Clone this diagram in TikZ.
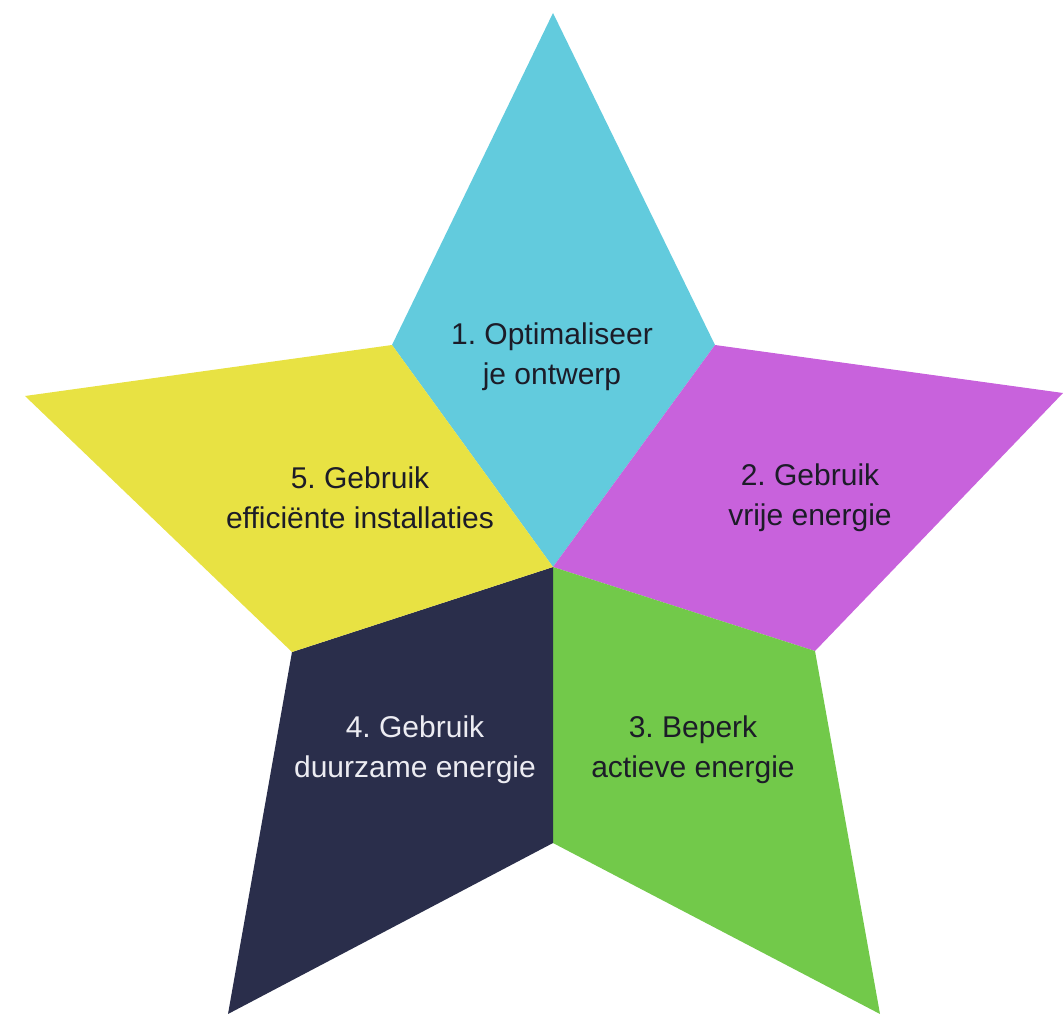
\documentclass[tikz,border=0pt]{standalone}
\usepackage{fontspec}
\setmainfont{Liberation Sans}
\frenchspacing
\definecolor{cyanp}{HTML}{62CBDD}
\definecolor{magp}{HTML}{C862DC}
\definecolor{grnp}{HTML}{72C94A}
\definecolor{navp}{HTML}{2A2E4B}
\definecolor{yelp}{HTML}{E8E243}
\definecolor{txtd}{HTML}{1C1C28}
\definecolor{txtl}{HTML}{ECECF2}
\begin{document}
\begin{tikzpicture}[x=1pt,y=-1pt,
  lbl/.style={align=center,font=\fontsize{30}{40}\selectfont,text=txtd},
  piece/.style={draw=none}]
\useasboundingbox (0,0) rectangle (1063,1014);
\coordinate (C) at (553,567);
\coordinate (T) at (553,13);
\coordinate (IUL) at (392,345);
\coordinate (IUR) at (715,345);
\coordinate (R) at (1063,393);
\coordinate (ILR) at (815,651);
\coordinate (BR) at (880,1014);
\coordinate (IB) at (553,843);
\coordinate (BL) at (228,1014);
\coordinate (ILL) at (292,652);
\coordinate (L) at (25,396);
\fill[cyanp] (C) -- (IUL) -- (T) -- (IUR) -- cycle;
\fill[magp] (C) -- (IUR) -- (R) -- (ILR) -- cycle;
\fill[grnp] (C) -- (ILR) -- (BR) -- (IB) -- cycle;
\fill[navp] (C) -- (IB) -- (BL) -- (ILL) -- cycle;
\fill[yelp] (C) -- (ILL) -- (L) -- (IUL) -- cycle;
\node[lbl] (t1) at (552,357) {\frenchspacing 1. Optimaliseer\\je ontwerp};
\node[lbl] (t2) at (810,498) {\frenchspacing 2. Gebruik\\vrije energie};
\node[lbl] (t3) at (693,750) {\frenchspacing 3. Beperk\\actieve energie};
\node[lbl,text=txtl] (t4) at (415,750) {\frenchspacing 4. Gebruik\\duurzame energie};
\node[lbl] (t5) at (360,498) {\frenchspacing 5. Gebruik\\efficiënte installaties};
\end{tikzpicture}
\end{document}
